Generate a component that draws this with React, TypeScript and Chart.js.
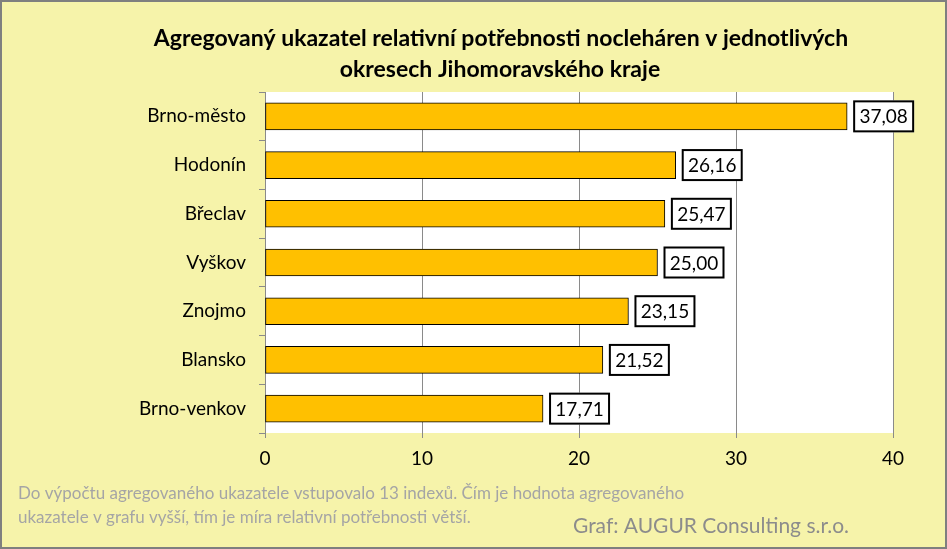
import React, { useEffect, useRef } from 'react';
import { Chart, registerables } from 'chart.js';

Chart.register(...registerables);

const categories = ['Brno-město', 'Hodonín', 'Břeclav', 'Vyškov', 'Znojmo', 'Blansko', 'Brno-venkov'];
const values = [37.08, 26.16, 25.47, 25.0, 23.15, 21.52, 17.71];
const xMin = 0;
const xMax = 40;
const xStep = 10;
const titleLines = [
  'Agregovaný ukazatel relativní potřebnosti nocleháren v jednotlivých',
  'okresech Jihomoravského kraje',
];
const noteLines = [
  'Do výpočtu agregovaného ukazatele vstupovalo 13 indexů. Čím je hodnota agregovaného',
  'ukazatele v grafu vyšší, tím je míra relativní potřebnosti větší.',
];
const creditText = 'Graf: AUGUR Consulting s.r.o.';

const FONT = 'Lato, "Open Sans", sans-serif';
const BG = '#F6F3AA';
const GRID = '#8A8A8A';

const fmt = (v: number) => v.toFixed(2).replace('.', ',');

const decorPlugin = {
  id: 'decor',
  beforeDraw(chart: any) {
    const { ctx, width, height, chartArea } = chart;
    ctx.save();
    ctx.fillStyle = BG;
    ctx.fillRect(0, 0, width, height);
    ctx.strokeStyle = '#7F7F7F';
    ctx.lineWidth = 2;
    ctx.strokeRect(1, 1, width - 2, height - 2);
    ctx.fillStyle = '#FFFFFF';
    ctx.fillRect(chartArea.left, chartArea.top, chartArea.right - chartArea.left, chartArea.bottom - chartArea.top);
    ctx.restore();
  },
  afterDraw(chart: any) {
    const { ctx } = chart;
    ctx.save();
    ctx.fillStyle = '#000000';
    ctx.textAlign = 'center';
    ctx.textBaseline = 'middle';
    ctx.font = `bold 23px ${FONT}`;
    ctx.fillText(titleLines[0], 501, 39, 704);
    ctx.fillText(titleLines[1], 500, 70, 322);
    ctx.textAlign = 'left';
    ctx.fillStyle = '#A5A5A5';
    ctx.font = `17px ${FONT}`;
    ctx.fillText(noteLines[0], 18, 494, 681);
    ctx.fillText(noteLines[1], 18, 518, 464);
    ctx.fillStyle = '#8C8C8C';
    ctx.font = `21px ${FONT}`;
    ctx.fillText(creditText, 573, 526, 276);
    ctx.restore();
  },
  afterDatasetsDraw(chart: any) {
    const { ctx } = chart;
    const meta = chart.getDatasetMeta(0);
    ctx.save();
    ctx.font = `19px ${FONT}`;
    ctx.textBaseline = 'middle';
    ctx.textAlign = 'center';
    meta.data.forEach((bar: any, i: number) => {
      const text = fmt(values[i]);
      const w = 61;
      const h = 32;
      const x0 = bar.x + 6;
      const y0 = bar.y - h / 2;
      ctx.fillStyle = '#FFFFFF';
      ctx.fillRect(x0, y0, w, h);
      ctx.strokeStyle = '#000000';
      ctx.lineWidth = 2;
      ctx.strokeRect(x0 + 1, y0 + 1, w - 2, h - 2);
      ctx.fillStyle = '#000000';
      ctx.fillText(text, x0 + w / 2, bar.y + 1);
    });
    ctx.restore();
  },
};

export default function App() {
  const ref = useRef<HTMLCanvasElement | null>(null);
  useEffect(() => {
    if (!ref.current) return;
    const chart = new Chart(ref.current, {
      type: 'bar',
      data: {
        labels: categories,
        datasets: [
          {
            data: values,
            backgroundColor: '#FFC000',
            borderColor: '#000000',
            borderWidth: 1,
            borderSkipped: false,
            barThickness: 27,
          },
        ],
      },
      options: {
        indexAxis: 'y',
        responsive: false,
        animation: false,
        devicePixelRatio: 1,
        layout: { padding: { top: 92, right: 54, left: 0, bottom: 0 } },
        plugins: {
          legend: { display: false },
          title: { display: false },
          tooltip: { enabled: false },
        },
        scales: {
          x: {
            type: 'linear',
            min: xMin,
            max: xMax,
            ticks: { stepSize: xStep, color: '#000000', font: { family: FONT, size: 19 }, padding: 9 },
            grid: { color: GRID, tickLength: 5, drawOnChartArea: true },
            border: { display: false },
            afterFit: (scale: any) => {
              scale.height = 116;
            },
          },
          y: {
            type: 'category',
            offset: true,
            ticks: { color: '#000000', font: { family: FONT, size: 19 }, padding: 13 },
            grid: { color: GRID, tickLength: 6, drawOnChartArea: false, offset: true },
            border: { display: true, color: GRID },
            afterFit: (scale: any) => {
              scale.width = 265;
            },
          },
        },
      },
      plugins: [decorPlugin],
    });
    return () => chart.destroy();
  }, []);
  return (
    <div style={{ position: 'fixed', left: 0, top: 0, width: 947, height: 549 }}>
      <canvas ref={ref} width={947} height={549} style={{ display: 'block' }} />
    </div>
  );
}
